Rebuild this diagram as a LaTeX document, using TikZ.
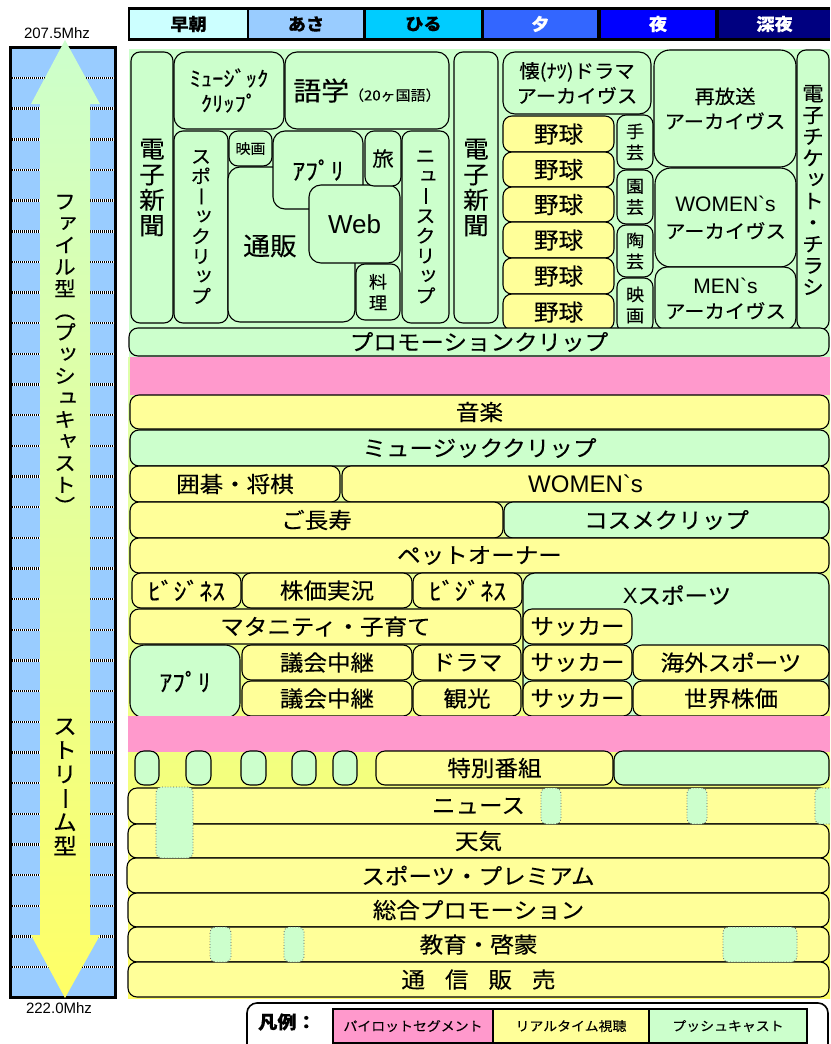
\documentclass[tikz,border=0pt]{standalone}
\usepackage{fontspec}
\usepackage{graphicx}
\setmainfont{Noto Sans CJK JP}[FakeStretch=1.07,FakeBold=0.2]
\newfontfamily\arial[Ligatures=TeXOff]{Liberation Sans}
\definecolor{cg}{HTML}{CCFFCC}
\definecolor{cy}{HTML}{FFFF99}
\definecolor{cpk}{HTML}{FF99CC}
\definecolor{cbl}{HTML}{99CCFF}
\definecolor{hcA}{HTML}{CCFFFF}
\definecolor{hcB}{HTML}{99CCFF}
\definecolor{hcC}{HTML}{00CCFF}
\definecolor{hcD}{HTML}{3366FF}
\definecolor{hcE}{HTML}{0000FF}
\definecolor{hcF}{HTML}{000080}
\definecolor{cyd}{HTML}{FFFF66}
\definecolor{cmid}{HTML}{DDFFAA}
\newcommand{\vlong}{\rotatebox[origin=c]{-90}{\vphantom{国}ー}}
\newcommand{\vlp}{\rotatebox[origin=c]{-90}{\vphantom{国}（}}
\newcommand{\vrp}{\rotatebox[origin=c]{-90}{\vphantom{国}）}}
\newcommand{\vs}[1]{\raisebox{0.12em}{\kern0.15em #1\kern-0.15em}}
\newcommand{\nolsl}{\lineskiplimit -50pt\relax}
\newcommand{\vfs}[2]{\fontsize{#1}{#2}\selectfont\nolsl}
\newcommand{\bx}[7]{%
  \pgfmathsetmacro{\bxcx}{(#3+#5)/2}%
  \pgfmathsetmacro{\bxcy}{(#4+#6)/2}%
  \pgfmathsetmacro{\bxw}{#5-#3}%
  \pgfmathsetmacro{\bxh}{#6-#4}%
  \node[#2, minimum width=\bxw pt, minimum height=\bxh pt] (#1) at (\bxcx,\bxcy) {#7};}
\tikzset{
  tsz/.style={font=\fontsize{#1}{#1}\selectfont},
  vt/.style 2 args={font={\vfs{#1}{#2}}},
  rbox/.style={draw=black, line width=1.1pt, rounded corners=9pt, inner sep=0pt, align=center},
  gb/.style={rbox, fill=cg},
  yb/.style={rbox, fill=cy},
  dbx/.style={draw=black!65, dotted, line width=0.8pt, fill=cg, rounded corners=5pt, inner sep=0pt},
  lbl/.style={inner sep=0pt, align=center},
  hcell/.style={inner sep=0pt, font=\bfseries\fontsize{17}{17}\selectfont},
  lgb/.style={draw=black, line width=1.6pt, inner sep=0pt, font=\fontsize{13}{13}\selectfont},
}
\begin{document}
\begin{tikzpicture}[x=1pt,y=-1pt]
\clip (0,0) rectangle (830,1044);
\fill[white] (0,0) rectangle (830,1044);
% ---------- header ----------
\fill[black] (128,7) rectangle (830,41);
\bx{hd1}{hcell,fill=hcA}{130}{10}{247}{38}{早朝}
\bx{hd2}{hcell,fill=hcB}{249}{10}{363}{38}{あさ}
\bx{hd3}{hcell,fill=hcC}{366}{10}{481}{38}{ひる}
\bx{hd4}{hcell,fill=hcD,text=white}{484}{10}{597}{38}{夕}
\bx{hd5}{hcell,fill=hcE,text=white}{601}{10}{715}{38}{夜}
\bx{hd6}{hcell,fill=hcF,text=white}{719}{10}{830}{38}{深夜}
% ---------- left bar ----------
\node[lbl,font=\arial\fontsize{15}{15}\selectfont] (ftop) at (57,33) {207.5Mhz};
\node[lbl,font=\arial\fontsize{15}{15}\selectfont] (fbot) at (59,1008) {222.0Mhz};
\draw[line width=3pt, fill=cbl] (10.5,47.5) rectangle (115.5,997.5);
\foreach \k in {0,...,29}{%
  \pgfmathsetmacro{\yy}{78+30.66*\k}
  \draw[white,line width=2.4pt] (12,\yy) -- (114,\yy);
  \draw[black,line width=2.4pt,dash pattern=on 0.7pt off 1.3pt] (12,\yy) -- (114,\yy);}
\shade[top color=cg,bottom color=cyd] (40,104) -- (31,104) -- (65,40) -- (100,104) -- (90,104) -- (90,935) -- (100,935) -- (65,998) -- (31,935) -- (40,935) -- cycle;
\node[lbl,vt={20}{21.8}] (ftype) at (65,356) {フ\\\vs{ァ}\\イ\\ル\\型\\\vlp\\プ\\\vs{ッ}\\シ\\\vs{ュ}\\キ\\\vs{ャ}\\ス\\ト\\\vrp};
\node[lbl,vt={22}{24}] (stype) at (65,787) {ス\\ト\\リ\\\vlong\\ム\\型};
% ---------- grid background ----------
\fill[cg] (129,49) rectangle (830,357);
\shade[top color=cmid,bottom color=cyd] (128,357) rectangle (830,998);
% ---------- top section ----------
\bx{dsL}{gb,vt={24}{25.5}}{131}{52}{173}{323}{電\\子\\新\\聞}
\bx{mcl}{gb,rounded corners=12pt,vt={21}{25}}{174}{52}{284}{129}{ﾐｭｰｼﾞｯｸ\\ｸﾘｯﾌﾟ}
\bx{gogaku}{gb,rounded corners=12pt}{285}{52}{449}{129}{{\fontsize{26}{26}\selectfont 語学}{\fontsize{14}{14}\selectfont （20ヶ国語）}}
\bx{spc}{gb,vt={18.5}{20}}{174}{131}{228}{323}{ス\\ポ\\\vlong\\\vs{ッ}\\ク\\リ\\\vs{ッ}\\プ}
\bx{eigaS}{gb,tsz=14}{229}{131}{272}{166}{映画}
\bx{tsuhan}{gb,rounded corners=12pt}{228}{167}{355}{322}{}
\node[lbl,tsz=25] (tsuhanT) at (270,246) {通販};
\bx{appT}{gb,rounded corners=12pt,tsz=24}{273}{131}{363}{209}{ｱﾌﾟﾘ}
\bx{web}{gb,rounded corners=12pt,font=\arial\fontsize{26}{26}\selectfont}{309}{185}{400}{263}{Web}
\bx{tabi}{gb,tsz=20}{365}{131}{401}{186}{旅}
\bx{ryori}{gb,vt={17}{21}}{356}{264}{400}{320}{料\\理}
\bx{nsc}{gb,vt={18.5}{20}}{402}{131}{449}{323}{ニ\\\vs{ュ}\\\vlong\\ス\\ク\\リ\\\vs{ッ}\\プ}
\bx{dsR}{gb,vt={24}{25.5}}{454}{52}{498}{323}{電\\子\\新\\聞}
\bx{natsu}{gb,rounded corners=12pt,vt={19}{25}}{503}{52}{651}{114}{懐(ﾅﾂ)ドラマ\\アーカイヴス}
\bx{yk1}{yb,tsz=23}{503}{116}{614}{152}{野球}
\bx{yk2}{yb,tsz=23}{503}{152}{614}{187}{野球}
\bx{yk3}{yb,tsz=23}{503}{187}{614}{222}{野球}
\bx{yk4}{yb,tsz=23}{503}{222}{614}{258}{野球}
\bx{yk5}{yb,tsz=23}{503}{258}{614}{294}{野球}
\bx{yk6}{yb,tsz=23}{503}{294}{614}{330}{野球}
\bx{shugei}{gb,vt={17}{21}}{617}{115}{653}{169}{手\\芸}
\bx{engei}{gb,vt={17}{21}}{617}{170}{653}{224}{園\\芸}
\bx{tougei}{gb,vt={17}{21}}{617}{225}{653}{277}{陶\\芸}
\bx{eigaV}{gb,vt={17}{21}}{617}{278}{653}{332}{映\\画}
\bx{saiho}{gb,rounded corners=16pt,vt={19}{25}}{654}{50}{796}{167}{再放送\\アーカイヴス}
\bx{womA}{gb,rounded corners=16pt,vt={19}{27}}{655}{168}{796}{267}{{\arial\fontsize{21}{21}\selectfont WOMEN`s}\\アーカイヴス}
\bx{menA}{gb,rounded corners=12pt,vt={19}{25}}{655}{267}{796}{330}{{\arial\fontsize{21}{21}\selectfont MEN`s}\\アーカイヴス}
\bx{eticket}{gb,vt={20}{21.5}}{797}{50}{829}{330}{電\\子\\チ\\ケ\\\vs{ッ}\\ト\\・\\チ\\ラ\\シ}
\bx{promo}{gb,tsz=22}{129}{328}{829}{356}{プロモーションクリップ}
% ---------- pilot band 1 ----------
\fill[cpk] (130,357) rectangle (830,395);
% ---------- middle rows ----------
\bx{ongaku}{yb,tsz=22}{130}{395}{829}{429}{音楽}
\bx{mclip}{gb,tsz=22}{130}{430}{829}{466}{ミュージッククリップ}
\bx{igo}{yb,tsz=22}{130}{466}{340}{502}{囲碁・将棋}
\bx{women}{yb,font=\arial\fontsize{24}{24}\selectfont}{342}{466}{829}{502}{WOMEN`s}
\bx{chouju}{yb,tsz=22}{130}{502}{503}{538}{ご長寿}
\bx{cosme}{gb,tsz=22}{504}{502}{829}{538}{コスメクリップ}
\bx{pet}{yb,tsz=22}{130}{538}{829}{573}{ペットオーナー}
\bx{biz1}{yb,tsz=24}{132}{573}{241}{608}{ﾋﾞｼﾞﾈｽ}
\bx{kabu}{yb,tsz=22}{242}{573}{412}{608}{株価実況}
\bx{biz2}{yb,tsz=24}{413}{573}{522}{608}{ﾋﾞｼﾞﾈｽ}
\bx{xsp}{gb,rounded corners=12pt}{523}{573}{829}{716}{}
\node[lbl,tsz=22] (xspT) at (677,595) {{\arial X}スポーツ};
\bx{mata}{yb,tsz=22}{130}{609}{521}{644}{マタニティ・子育て}
\bx{soc1}{yb,tsz=22}{523}{609}{632}{644}{サッカー}
\bx{appB}{gb,rounded corners=15pt,tsz=24}{130}{645}{240}{718}{ｱﾌﾟﾘ}
\bx{gikai1}{yb,tsz=22}{242}{645}{412}{680}{議会中継}
\bx{gikai2}{yb,tsz=22}{242}{681}{412}{716}{議会中継}
\bx{drama}{yb,tsz=22}{413}{645}{521}{680}{ドラマ}
\bx{kanko}{yb,tsz=22}{413}{681}{521}{716}{観光}
\bx{soc2}{yb,tsz=22}{523}{645}{632}{680}{サッカー}
\bx{soc3}{yb,tsz=22}{523}{681}{632}{716}{サッカー}
\bx{kaigai}{yb,tsz=22}{633}{645}{829}{680}{海外スポーツ}
\bx{sekai}{yb,tsz=22}{633}{681}{829}{716}{世界株価}
% ---------- pilot band 2 ----------
\fill[cpk] (128,716) rectangle (830,752);
% ---------- stream rows ----------
\bx{sg1}{gb}{135}{751}{159}{785}{}
\bx{sg2}{gb}{186}{751}{211}{785}{}
\bx{sg3}{gb}{241}{751}{266}{785}{}
\bx{sg4}{gb}{292}{751}{316}{785}{}
\bx{sg5}{gb}{333}{751}{357}{785}{}
\bx{toku}{yb,tsz=22}{376}{751}{613}{785}{特別番組}
\bx{tokuG}{gb}{614}{751}{829}{785}{}
\bx{news}{yb,tsz=22}{128}{788}{829}{824}{ニュース}
\bx{tenki}{yb,tsz=22}{128}{824}{829}{858}{天気}
\bx{sprem}{yb,tsz=22}{127}{858}{829}{893}{スポーツ・プレミアム}
\bx{sogo}{yb,tsz=22}{128}{893}{829}{927}{総合プロモーション}
\bx{kyoiku}{yb,tsz=22}{128}{927}{829}{962}{教育・啓蒙}
\bx{tsushin}{yb,tsz=22}{128}{962}{829}{997}{通\hspace{20pt}信\hspace{20pt}販\hspace{20pt}売}
\bx{pd1}{dbx}{156}{787}{193}{858}{}
\bx{pd2}{dbx}{541}{788}{561}{824}{}
\bx{pd3}{dbx}{687}{788}{707}{824}{}
\bx{pd4}{dbx}{815}{788}{845}{824}{}
\bx{pd5}{dbx}{210}{927}{231}{962}{}
\bx{pd6}{dbx}{284}{927}{304}{962}{}
\bx{pd7}{dbx}{723}{927}{797}{962}{}
% ---------- legend ----------
\bx{legend}{draw=black,line width=1.6pt,rounded corners=10pt,fill=white,inner sep=0pt}{247}{1003}{828}{1075}{}
\node[lbl,font=\bfseries\fontsize{18}{18}\selectfont] (legT) at (287,1022) {凡例：};
\bx{lg1}{lgb,fill=cpk}{333}{1009}{493}{1043}{パイロットセグメント}
\bx{lg2}{lgb,fill=cy}{493}{1009}{649}{1043}{リアルタイム視聴}
\bx{lg3}{lgb,fill=cg}{649}{1009}{807}{1043}{プッシュキャスト}
\end{tikzpicture}
\end{document}
